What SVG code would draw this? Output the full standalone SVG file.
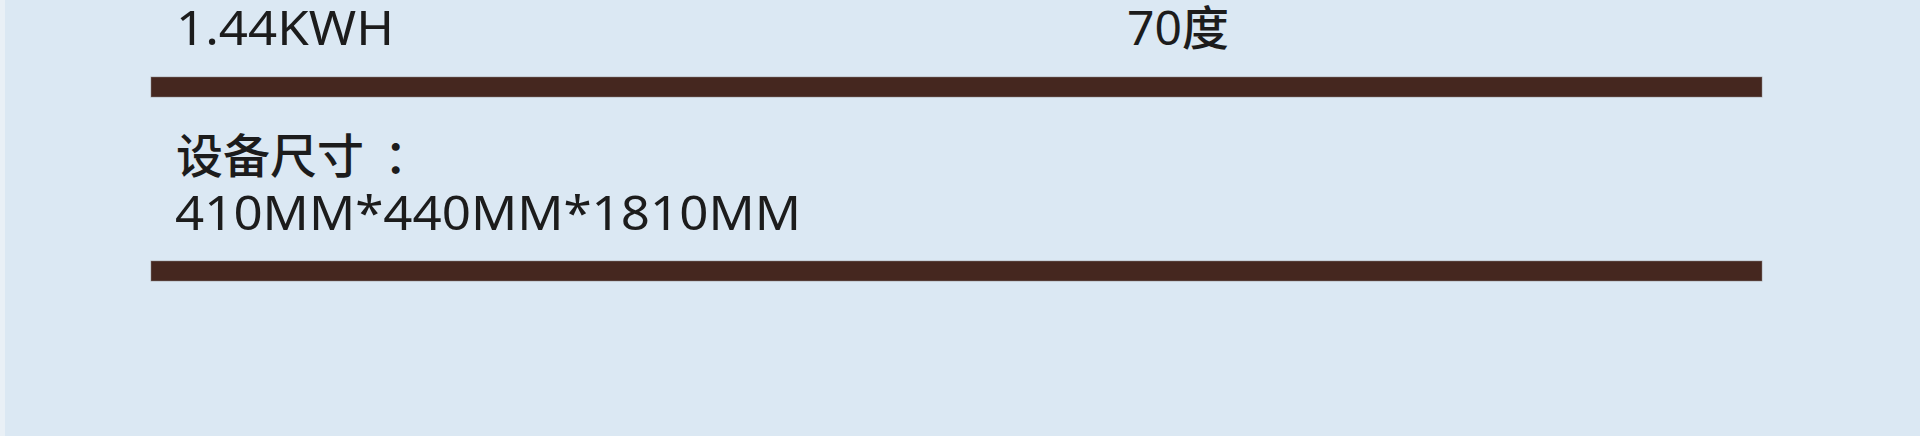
<svg xmlns="http://www.w3.org/2000/svg" width="1920" height="436" viewBox="0 0 1920 436">
  <style>
    .t { font-family: "Noto Sans", "Noto Sans CJK SC", sans-serif; font-size: 48px; fill: #1c1c1c; }
    .cjk { font-family: "Noto Sans CJK SC", sans-serif; font-size: 47px; font-weight: 500; fill: #1c1c1c; }
    .bar { fill: #45271f; stroke: #8a8080; stroke-width: 1; stroke-opacity: 0.5; }
  </style>
  <rect x="0" y="0" width="1920" height="436" fill="#dbe8f3"/>
  <rect x="0" y="0" width="5" height="436" fill="#e9f0f6"/>
  <g id="energy">
    <text class="t" x="176" y="45" textLength="218" lengthAdjust="spacingAndGlyphs">1.44KWH</text>
  </g>
  <g id="temperature">
    <text class="t" x="1127" y="45">70<tspan class="cjk">度</tspan></text>
  </g>
  <g id="size">
    <text class="cjk" x="176" y="173">设备尺寸<tspan dx="20">：</tspan></text>
    <text class="t" x="175" y="230" textLength="626" lengthAdjust="spacingAndGlyphs">410MM*440MM*1810MM</text>
  </g>
  <g id="connectors">
    <rect class="bar" x="151" y="77" width="1611" height="20"/>
    <rect class="bar" x="151" y="261" width="1611" height="20"/>
  </g>
</svg>
